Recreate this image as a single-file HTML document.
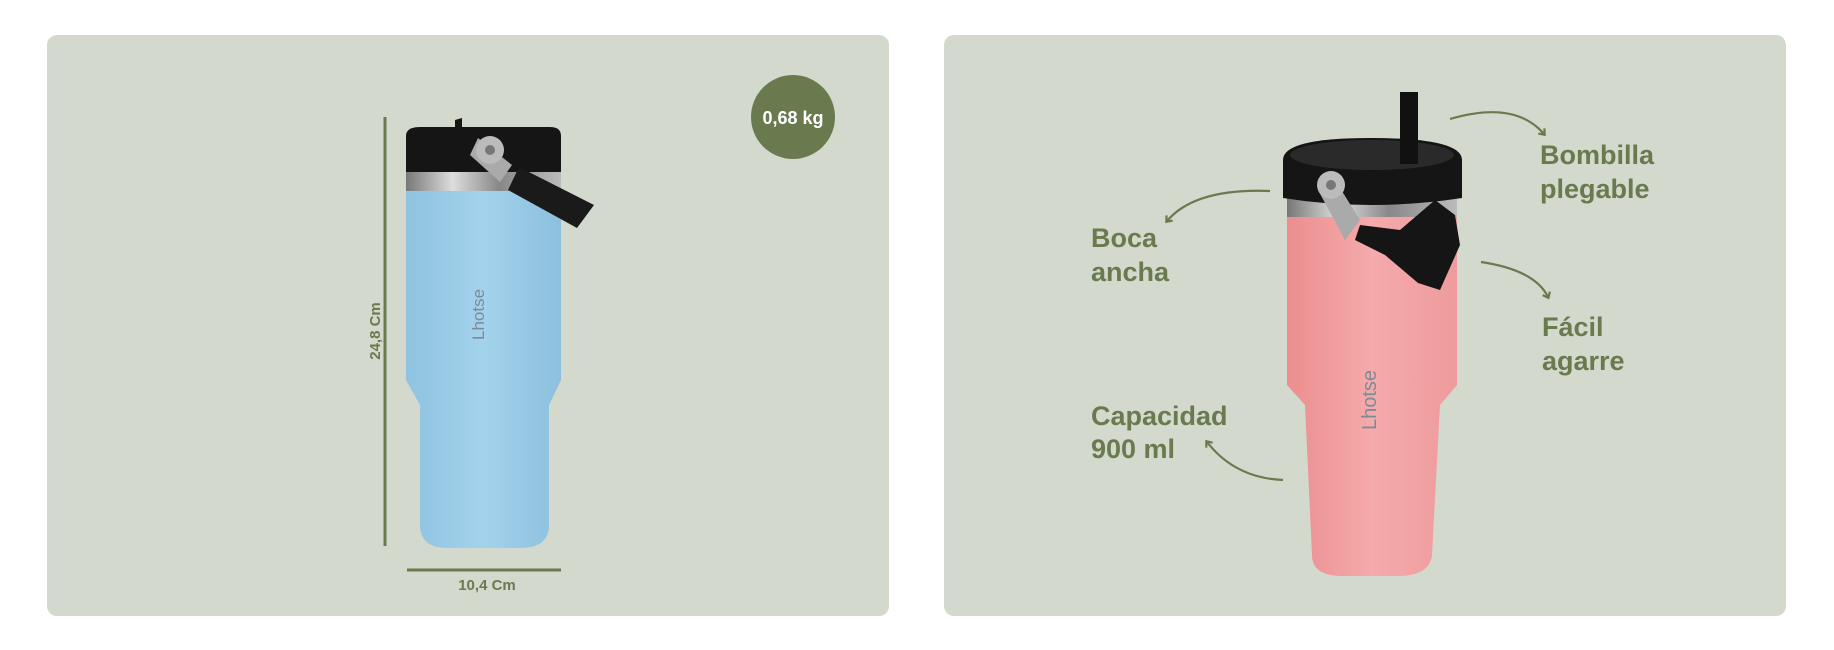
<!DOCTYPE html>
<html><head><meta charset="utf-8"><style>
html,body{margin:0;padding:0;background:#fff;width:1834px;height:650px;overflow:hidden}
svg{display:block}
text{font-family:"Liberation Sans",sans-serif;font-weight:bold;fill:#6a7a4f}
</style></head><body>
<svg width="1834" height="650" viewBox="0 0 1834 650" xmlns="http://www.w3.org/2000/svg">
<defs>
<linearGradient id="blue" x1="0" x2="1"><stop offset="0" stop-color="#8fc3e0"/><stop offset="0.5" stop-color="#a3d2ec"/><stop offset="1" stop-color="#8cc0dd"/></linearGradient>
<linearGradient id="pink" x1="0" x2="1"><stop offset="0" stop-color="#eb8e8f"/><stop offset="0.5" stop-color="#f5aaab"/><stop offset="1" stop-color="#ee9b9c"/></linearGradient>
<linearGradient id="steel" x1="0" x2="1"><stop offset="0" stop-color="#777"/><stop offset="0.3" stop-color="#ddd"/><stop offset="0.6" stop-color="#888"/><stop offset="1" stop-color="#bbb"/></linearGradient>
<marker id="ah" markerWidth="10" markerHeight="10" refX="5" refY="5" orient="auto" markerUnits="userSpaceOnUse"><path d="M1,1 L6,5 L1,9" fill="none" stroke="#6a7a4f" stroke-width="2.2"/></marker>
</defs>
<rect x="47" y="35" width="842" height="581" rx="10" fill="#d3d9cc"/>
<rect x="944" y="35" width="842" height="581" rx="10" fill="#d3d9cc"/>

<!-- left -->
<circle cx="793" cy="117" r="42" fill="#6a7a4f"/>
<text x="793" y="124" text-anchor="middle" font-size="18" style="fill:#fff">0,68 kg</text>
<line x1="385" y1="117" x2="385" y2="546" stroke="#6a7a4f" stroke-width="3"/>
<text transform="translate(380,331) rotate(-90)" text-anchor="middle" font-size="15">24,8 Cm</text>
<line x1="407" y1="570" x2="561" y2="570" stroke="#6a7a4f" stroke-width="3"/>
<text x="487" y="590" text-anchor="middle" font-size="15">10,4 Cm</text>

<path d="M406,190 L561,190 L561,380 L549,405 L549,525 Q549,548 520,548 L448,548 Q420,548 420,525 L420,405 L406,380 Z" fill="url(#blue)"/>
<rect x="406" y="171" width="155" height="20" fill="url(#steel)"/>
<path d="M406,136 Q406,127 420,127 L550,127 Q561,127 561,136 L561,172 L406,172 Z" fill="#151515"/>
<path d="M455,120 L462,118 L462,130 L455,130 Z" fill="#151515"/>
<path d="M478,138 L512,165 L500,182 L470,155 Z" fill="#aaa"/>
<circle cx="490" cy="150" r="14" fill="#bbb"/><circle cx="490" cy="150" r="5" fill="#777"/>
<path d="M519,167 L594,205 L577,228 L508,190 Z" fill="#1a1a1a"/>
<text transform="translate(484,340) rotate(-90)" font-size="17" style="fill:#7e8a94;font-weight:normal">Lhotse</text>

<!-- right -->
<path d="M1287,215 L1457,215 L1457,385 L1440,405 L1432,555 Q1430,575 1400,576 L1340,576 Q1312,575 1312,555 L1305,405 L1287,385 Z" fill="url(#pink)"/>
<rect x="1287" y="192" width="170" height="25" fill="url(#steel)"/>
<path d="M1283,160 Q1283,138 1370,138 Q1462,138 1462,160 L1462,198 Q1370,212 1283,198 Z" fill="#151515"/>
<ellipse cx="1372" cy="155" rx="82" ry="15" fill="#2a2a2a"/>
<rect x="1400" y="92" width="18" height="72" fill="#111"/>
<path d="M1330,172 L1360,220 L1345,240 L1318,190 Z" fill="#aaa"/>
<circle cx="1331" cy="185" r="14" fill="#bbb"/><circle cx="1331" cy="185" r="5" fill="#777"/>
<path d="M1360,225 L1400,230 L1435,200 L1455,215 L1460,245 L1440,290 L1418,283 L1385,255 L1355,240 Z" fill="#151515"/>
<text transform="translate(1376,430) rotate(-90)" font-size="20" style="fill:#7e8a94;font-weight:normal">Lhotse</text>

<text x="1540" y="164" font-size="27">Bombilla</text>
<text x="1540" y="198" font-size="27">plegable</text>
<text x="1091" y="247" font-size="27">Boca</text>
<text x="1091" y="281" font-size="27">ancha</text>
<text x="1542" y="336" font-size="27">Fácil</text>
<text x="1542" y="370" font-size="27">agarre</text>
<text x="1091" y="425" font-size="27">Capacidad</text>
<text x="1091" y="458" font-size="27">900 ml</text>

<g fill="none" stroke="#6a7a4f" stroke-width="2.2" marker-end="url(#ah)">
<path d="M1450,119 Q1515,100 1544,134"/>
<path d="M1270,191 Q1195,188 1167,221"/>
<path d="M1481,262 Q1535,270 1548,297"/>
<path d="M1283,480 Q1235,478 1207,442"/>
</g>
</svg>
</body></html>
